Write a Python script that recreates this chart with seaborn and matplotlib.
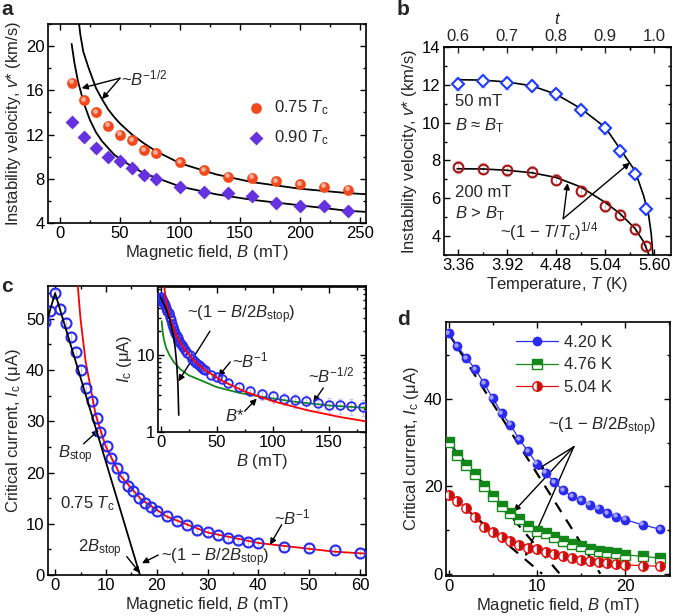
import matplotlib
matplotlib.use("Agg")
import matplotlib.pyplot as plt
import seaborn as sns
from matplotlib.ticker import MultipleLocator, FixedLocator, LogLocator, NullFormatter
from matplotlib.transforms import offset_copy

# ---------------- panel a: instability velocity vs field ----------------
a_field = [10, 20, 30, 40, 50, 60, 70, 80, 100, 120, 140, 160, 180, 200, 220, 240]
a_v075 = [16.7, 15.1, 14.0, 12.8, 12.0, 11.5, 10.6, 10.3, 9.5, 8.8, 8.2, 8.1, 7.8, 7.5, 7.3, 7.0]
a_v090 = [13.1, 11.8, 10.8, 10.0, 9.6, 9.0, 8.3, 8.0, 7.3, 6.8, 6.7, 6.4, 5.8, 5.5, 5.5, 5.1]
a_err = 0.35
a_fit075_B = [15.9, 17, 19.4, 23.6, 30, 35, 40, 45, 50, 60, 70, 80, 100, 130, 160, 200, 240, 256]
a_fit075_v = [22, 21.0, 19.5, 18.1, 16.2, 15.2, 14.3, 13.6, 13.0, 12.0, 11.2, 10.5, 9.4, 8.4, 7.7, 7.1, 6.7, 6.6]
a_fit090_B = [9.7, 12, 15, 20, 25, 30, 35, 40, 45, 50, 60, 70, 80, 100, 130, 160, 200, 240, 256]
a_fit090_v = [20.2, 18.5, 16.8, 14.8, 13.3, 12.2, 11.4, 10.8, 10.2, 9.8, 9.1, 8.5, 8.1, 7.3, 6.6, 6.1, 5.6, 5.1, 5.0]

# ---------------- panel b: velocity vs temperature ----------------
b_T = [3.355, 3.64, 3.92, 4.20, 4.48, 4.76, 5.04, 5.21, 5.38, 5.50]
b_v50 = [12.05, 12.2, 12.1, 11.95, 11.5, 10.65, 9.7, 8.5, 7.3, 5.45]
b_v200 = [7.65, 7.56, 7.47, 7.4, 6.98, 6.36, 5.57, 5.13, 4.37, 3.45]
b_err = 0.3
b_fit50_T = [3.35, 3.64, 3.92, 4.20, 4.48, 4.76, 5.04, 5.21, 5.38, 5.48, 5.535, 5.565, 5.585]
b_fit50_v = [12.27, 12.25, 12.15, 11.95, 11.5, 10.75, 9.75, 8.6, 7.45, 6.1, 5.1, 4.1, 2.9]
b_fit200_T = [3.35, 3.64, 3.92, 4.20, 4.48, 4.76, 5.04, 5.21, 5.38, 5.48, 5.545]
b_fit200_v = [7.56, 7.55, 7.48, 7.35, 7.1, 6.6, 5.78, 5.18, 4.4, 3.68, 2.93]
b_T_ticks = [3.36, 3.92, 4.48, 5.04, 5.60]
b_t_ticks = [0.6, 0.7, 0.8, 0.9, 1.0]
b_Tc = 5.6

# ---------------- panel c: critical current vs field, 0.75 Tc ----------------
c_B = [-2, -1, 0, 1, 2.1, 3.1, 4.2, 5.0, 6.1, 7.3, 8.2, 8.9, 10.2, 11.1, 12.1, 13.3, 14.4,
       15.4, 16.6, 17.6, 18.8, 20, 22, 24, 26, 28, 30, 32, 34, 36, 38, 40, 45, 50, 55, 60]
c_I = [49.3, 51.6, 55.0, 51.9, 49.2, 46.5, 43.6, 40.0, 36.5, 33.9, 30.6, 28.0, 25.1, 22.8,
       20.8, 19.2, 17.4, 16.3, 15.0, 14.0, 13.2, 12.4, 11.5, 10.6, 9.8, 8.8, 8.3, 7.8, 7.3,
       6.8, 6.5, 6.3, 5.5, 5.2, 4.8, 4.3]
c_B_hi = [70, 80, 90, 100, 110, 120, 130, 140, 150, 160, 170, 180]
c_I_hi = [3.8, 3.4, 3.05, 2.9, 2.7, 2.55, 2.5, 2.4, 2.25, 2.2, 2.15, 2.1]
c_err = 0.9
c_hi_err = 0.5
c_red_B = [3.4, 4, 5, 6, 8, 10, 13, 17, 22, 30, 40, 55, 75, 100, 130, 160, 183]
c_red_I = [73, 62, 50, 41.7, 31.2, 25, 19.2, 14.7, 11.4, 8.3, 6.25, 4.55, 3.33, 2.5, 1.92, 1.56, 1.37]
c_green_B = [1, 2, 3, 5, 8, 12, 18, 25, 35, 50, 70, 90, 120, 150, 183]
c_green_I = [27, 19, 15.6, 12.1, 9.8, 7.9, 6.4, 5.4, 4.7, 3.8, 3.2, 2.85, 2.45, 2.2, 2.05]
c_stop_B = [-2, 0, 16.7]
c_stop_I = [48.4, 55, 0]
c_stoplog_B = [0, 4, 8, 11, 13, 14.5, 15.5, 16.2]
c_stoplog_I = [55, 41.8, 28.7, 18.8, 12.2, 7.2, 4.0, 1.65]

# ---------------- panel d: critical current at three temperatures ----------------
d_B = [0, 1, 2, 3, 4, 5, 6, 7, 8, 9, 10, 11, 12, 13, 14, 15, 16, 17, 18, 19, 20, 22, 24]
d_I420 = [55.1, 52.1, 49.4, 46.9, 43.6, 40.2, 36.8, 34.1, 30.8, 28.0, 25.2, 23.1, 20.9,
          19.1, 17.7, 16.9, 15.8, 14.9, 13.9, 13.1, 12.4, 11.2, 10.2]
d_I476 = [30.1, 27.3, 25.0, 22.9, 20.0, 17.7, 15.6, 13.9, 12.5, 11.0, 9.9, 9.3, 8.4,
          7.6, 6.9, 6.3, 5.6, 5.3, 5.0, 4.7, 4.35, 4.0, 3.6]
d_I504 = [18.1, 16.6, 15.0, 13.1, 10.8, 9.5, 8.5, 7.6, 6.6, 5.9, 5.6, 5.0, 4.6,
          4.1, 3.6, 3.2, 3.0, 2.7, 2.4, 2.2, 2.0, 1.9, 1.7]
d_err = 0.9
d_lin420 = ([0, 17.2], [55, 0])
d_lin476 = ([0, 12.6], [30, 0])
d_lin504 = ([0, 10.6], [18.2, 0])

ORANGE = "#f24a1c"
VIOLET = "#6632e0"
BLUE = "#2a2af0"
DARKRED = "#a51616"
RED = "#ff0000"
GREEN = "#14871a"

sns.set_theme(style="ticks")
plt.rcParams["font.family"] = ["Liberation Sans", "DejaVu Sans"]
plt.rcParams["mathtext.fontset"] = "custom"
plt.rcParams["mathtext.rm"] = "Liberation Sans"
plt.rcParams["mathtext.it"] = "Liberation Sans:italic"
plt.rcParams["mathtext.bf"] = "Liberation Sans:bold"
plt.rcParams["axes.linewidth"] = 1.2
FS = 12

fig = plt.figure(figsize=(6.73, 6.16), dpi=100)
W, H = 673.0, 616.0


def add_ax(left, top, right, bottom):
    return fig.add_axes([left / W, 1 - bottom / H, (right - left) / W, (bottom - top) / H])


def style(ax):
    ax.tick_params(which="both", direction="in", top=True, right=True,
                   labelsize=FS, colors="black", width=1.0, pad=2.5)
    ax.tick_params(which="major", length=4)
    ax.tick_params(which="minor", length=2)
    for sp in ax.spines.values():
        sp.set_color("black")
        sp.set_linewidth(1.2)


def sphere_highlight(ax, x, y, size):
    tr = offset_copy(ax.transData, fig=fig, x=-1.0, y=1.0, units="points")
    ax.scatter(x, y, s=size, color="white", alpha=0.55, linewidth=0,
               transform=tr, zorder=6)


arrow = dict(arrowstyle="-|>", color="black", lw=1.0, mutation_scale=9,
             shrinkA=0, shrinkB=0)

# ======================= a =======================
ax = add_ax(48, 24, 366, 223)
style(ax)
ax.errorbar(a_field, a_v075, yerr=a_err, fmt="none", ecolor="#f7b9a8", elinewidth=0.8, capsize=2, zorder=2)
ax.errorbar(a_field, a_v090, yerr=a_err, fmt="none", ecolor="#c9b6f2", elinewidth=0.8, capsize=2, zorder=2)
sns.lineplot(x=a_fit075_B, y=a_fit075_v, ax=ax, color="black", lw=1.3, sort=False, estimator=None, zorder=3)
sns.lineplot(x=a_fit090_B, y=a_fit090_v, ax=ax, color="black", lw=1.3, sort=False, estimator=None, zorder=3)
sns.scatterplot(x=a_field, y=a_v075, ax=ax, color=ORANGE, s=60, marker="o", linewidth=0, zorder=5,
                label="0.75 $T_{\\rm c}$")
sphere_highlight(ax, a_field, a_v075, 12)
sns.scatterplot(x=a_field, y=a_v090, ax=ax, color=VIOLET, s=50, marker="D", linewidth=0, zorder=5,
                label="0.90 $T_{\\rm c}$")
ax.legend(loc="center left", bbox_to_anchor=(0.575, 0.505), frameon=False, fontsize=FS,
          handletextpad=0.1, labelspacing=0.7, borderpad=0, markerscale=1.0)
ax.annotate("", xy=(18, 16.2), xytext=(50, 17.1), arrowprops=arrow)
ax.annotate("", xy=(35, 15.2), xytext=(50, 17.1), arrowprops=arrow)
ax.text(51, 17.1, "~$B^{-1/2}$", fontsize=FS, va="center", ha="left")
ax.set_xlim(-10, 255)
ax.set_ylim(4, 22)
ax.xaxis.set_major_locator(MultipleLocator(50))
ax.xaxis.set_minor_locator(MultipleLocator(25))
ax.yaxis.set_major_locator(MultipleLocator(4))
ax.yaxis.set_minor_locator(MultipleLocator(2))
ax.set_xlabel("Magnetic field, $B$ (mT)", fontsize=FS, labelpad=1)
ax.set_ylabel("Instability velocity, $v$* (km/s)", fontsize=FS, labelpad=2)

# ======================= b =======================
ax = add_ax(444, 47, 671, 255)
style(ax)
ax.tick_params(top=False)
ax.errorbar(b_T, b_v50, yerr=b_err, fmt="none", ecolor="#c4c9f7", elinewidth=0.8, capsize=2, zorder=2)
ax.errorbar(b_T, b_v200, yerr=b_err, fmt="none", ecolor="#f0bcbc", elinewidth=0.8, capsize=2, zorder=2)
sns.lineplot(x=b_fit50_T, y=b_fit50_v, ax=ax, color="black", lw=1.2, sort=False, estimator=None, zorder=3)
sns.lineplot(x=b_fit200_T, y=b_fit200_v, ax=ax, color="black", lw=1.2, sort=False, estimator=None, zorder=3)
ax.plot(b_T, b_v50, ls="none", marker="D", ms=6.2, mfc="white", mec="#1e3cff", mew=1.5, zorder=5)
ax.plot(b_T, b_v200, ls="none", marker="o", ms=7.0, mfc="none", mec=DARKRED, mew=1.5, zorder=5)
ax.text(3.33, 11.1, "50 mT", fontsize=FS, va="center")
ax.text(3.33, 9.86, "$B$ ≈ $B_{\\rm T}$", fontsize=FS, va="center")
ax.text(3.33, 6.33, "200 mT", fontsize=FS, va="center")
ax.text(3.33, 5.2, "$B$ > $B_{\\rm T}$", fontsize=FS, va="center")
ax.text(4.40, 4.25, "~(1 − $T$/$T_{\\rm c}$)$^{1/4}$", fontsize=FS, va="center", ha="center")
ax.annotate("", xy=(4.61, 6.8), xytext=(4.56, 4.92), arrowprops=arrow)
ax.annotate("", xy=(5.32, 7.88), xytext=(4.56, 4.92), arrowprops=arrow)
ax.set_xlim(3.2, 5.79)
ax.set_ylim(3, 14)
ax.xaxis.set_major_locator(FixedLocator(b_T_ticks))
ax.xaxis.set_minor_locator(FixedLocator([3.64, 4.20, 4.76, 5.32]))
ax.set_xticklabels([f"{v:.2f}" for v in b_T_ticks])
ax.yaxis.set_major_locator(MultipleLocator(2))
ax.yaxis.set_minor_locator(MultipleLocator(1))
ax.set_xlabel("Temperature, $T$ (K)", fontsize=FS, labelpad=1)
ax.set_ylabel("Instability velocity, $v$* (km/s)", fontsize=FS, labelpad=2)
sec = ax.secondary_xaxis("top", functions=(lambda T: T / b_Tc, lambda t: t * b_Tc))
sec.xaxis.set_major_locator(FixedLocator(b_t_ticks))
sec.xaxis.set_minor_locator(FixedLocator([0.65, 0.75, 0.85, 0.95]))
sec.set_xticklabels([f"{v:.1f}" for v in b_t_ticks])
sec.tick_params(which="both", direction="in", labelsize=FS, width=1.0, pad=2.5)
sec.tick_params(which="major", length=4)
sec.tick_params(which="minor", length=2)
sec.set_xlabel("$t$", fontsize=FS, labelpad=3)

# ======================= c =======================
ax = add_ax(48, 286, 366, 575)
style(ax)
ax.errorbar(c_B, c_I, yerr=c_err, fmt="none", ecolor="#c8c8f5", elinewidth=0.8, capsize=2, zorder=2)
sns.lineplot(x=c_red_B, y=c_red_I, ax=ax, color=RED, lw=1.3, sort=False, estimator=None, zorder=3)
ax.plot(c_B, c_I, ls="none", marker="o", ms=7.2, mfc="none", mec=BLUE, mew=1.5, zorder=4)
sns.lineplot(x=c_stop_B, y=c_stop_I, ax=ax, color="black", lw=1.3, sort=False, estimator=None, zorder=5)
ax.text(3.9, 23.4, "$B_{\\rm stop}$", fontsize=FS, ha="center", va="center")
ax.annotate("", xy=(8.6, 28.3), xytext=(5.6, 25.6), arrowprops=arrow)
ax.text(1.0, 13.9, "0.75 $T_{\\rm c}$", fontsize=FS, va="center")
ax.text(8.8, 5.1, "2$B_{\\rm stop}$", fontsize=FS, ha="center", va="center")
ax.annotate("", xy=(16.7, 0.4), xytext=(14.1, 3.6), arrowprops=arrow)
ax.text(20.8, 3.4, "~(1 − $B$/2$B_{\\rm stop}$)", fontsize=FS, va="center")
ax.annotate("", xy=(17.1, 2.3), xytext=(20.3, 3.9), arrowprops=arrow)
ax.text(43, 11.2, "~$B^{-1}$", fontsize=FS, ha="left", va="center")
ax.annotate("", xy=(42.3, 5.9), xytext=(44.6, 9.8), arrowprops=arrow)
ax.set_xlim(-1.4, 61.2)
ax.set_ylim(0, 56.4)
ax.xaxis.set_major_locator(MultipleLocator(10))
ax.xaxis.set_minor_locator(MultipleLocator(5))
ax.yaxis.set_major_locator(MultipleLocator(10))
ax.yaxis.set_minor_locator(MultipleLocator(5))
ax.set_xlabel("Magnetic field, $B$ (mT)", fontsize=FS, labelpad=1)
ax.set_ylabel("Critical current, $I_{\\rm c}$ (μA)", fontsize=FS, labelpad=2)

# inset of c
axi = add_ax(158.3, 286.7, 366, 432)
axi.set_zorder(10)
axi.set_facecolor("white")
style(axi)
axi.set_yscale("log")
axi.errorbar(c_B + c_B_hi, c_I + c_I_hi, yerr=[c_err * 0.6] * len(c_B) + [c_hi_err] * len(c_B_hi),
             fmt="none", ecolor="#c8c8f5", elinewidth=0.8, capsize=1.5, zorder=2)
sns.lineplot(x=c_green_B, y=c_green_I, ax=axi, color=GREEN, lw=1.3, sort=False, estimator=None, zorder=3)
axi.plot(c_B + c_B_hi, c_I + c_I_hi, ls="none", marker="o", ms=6.2, mfc="none", mec=BLUE, mew=1.3, zorder=4)
sns.lineplot(x=c_red_B, y=c_red_I, ax=axi, color=RED, lw=1.3, sort=False, estimator=None, zorder=5)
sns.lineplot(x=c_stoplog_B, y=c_stoplog_I, ax=axi, color="black", lw=1.2, sort=False, estimator=None, zorder=5)
axi.text(72, 33, "~(1 − $B$/2$B_{\\rm stop}$)", fontsize=FS, ha="center", va="center")
axi.annotate("", xy=(15.9, 4.5), xytext=(44, 20), arrowprops=arrow)
axi.text(64, 8.3, "~$B^{-1}$", fontsize=FS, ha="left", va="center")
axi.annotate("", xy=(51.5, 5.2), xytext=(62, 8.0), arrowprops=arrow)
axi.text(131, 5.3, "~$B^{-1/2}$", fontsize=FS, ha="left", va="center")
axi.annotate("", xy=(136, 2.4), xytext=(145, 3.7), arrowprops=arrow)
axi.text(66, 1.6, "$B$*", fontsize=FS, ha="center", va="center")
axi.annotate("", xy=(85.7, 2.7), xytext=(75, 1.86), arrowprops=arrow)
axi.set_xlim(-2, 183)
axi.set_ylim(1, 75)
axi.xaxis.set_major_locator(MultipleLocator(50))
axi.xaxis.set_minor_locator(MultipleLocator(25))
axi.yaxis.set_minor_locator(LogLocator(base=10, subs=range(2, 10), numticks=10))
axi.yaxis.set_minor_formatter(NullFormatter())
axi.set_yticks([1, 10])
axi.set_yticklabels(["1", "10"])
axi.set_xlabel("$B$ (mT)", fontsize=FS, labelpad=1)
axi.set_ylabel("$I_{\\rm c}$ (μA)", fontsize=FS, labelpad=2)

# ======================= d =======================
ax = add_ax(446, 321.7, 670, 576)
style(ax)
for ys, ec in [(d_I420, "#c8c8f5"), (d_I476, "#b8dcb8"), (d_I504, "#f5c0c0")]:
    ax.errorbar(d_B, ys, yerr=d_err, fmt="none", ecolor=ec, elinewidth=0.8, capsize=2, zorder=2)
for xs, ys in [d_lin420, d_lin476, d_lin504]:
    sns.lineplot(x=xs, y=ys, ax=ax, color="black", lw=1.6, sort=False, estimator=None,
                 zorder=3, dashes=False, linestyle=(0, (5, 4)))
h1, = ax.plot(d_B, d_I420, color=BLUE, lw=0.9, marker="o", ms=7, mfc=BLUE, mec=BLUE, mew=0,
              zorder=4, label="4.20 K")
sphere_highlight(ax, d_B, d_I420, 10)
h2, = ax.plot(d_B, d_I476, color=GREEN, lw=0.9, marker="s", ms=6.5, fillstyle="top",
              mfc=GREEN, mfcalt="white", mec=GREEN, mew=1.0, zorder=4, label="4.76 K")
h3, = ax.plot(d_B, d_I504, color="#e01010", lw=0.9, marker="o", ms=6.8, fillstyle="right",
              mfc="#c01010", mfcalt="white", mec="#e01010", mew=1.0, zorder=4, label="5.04 K")
ax.legend(handles=[h1, h2, h3], loc="center left", bbox_to_anchor=(0.275, 0.83), frameon=False,
          fontsize=FS, handlelength=2.5, handletextpad=0.4, labelspacing=0.45, borderpad=0)
ax.text(17.4, 33.7, "~(1 − $B$/2$B_{\\rm stop}$)", fontsize=FS, ha="center", va="center")
for tip in [(10, 23.8), (7.4, 14.3), (8.7, 4.0)]:
    ax.annotate("", xy=tip, xytext=(14.2, 29.1), arrowprops=arrow)
ax.set_xlim(-0.3, 25.1)
ax.set_ylim(-0.5, 57.7)
ax.xaxis.set_major_locator(MultipleLocator(10))
ax.xaxis.set_minor_locator(MultipleLocator(5))
ax.yaxis.set_major_locator(MultipleLocator(20))
ax.yaxis.set_minor_locator(MultipleLocator(10))
ax.set_xlabel("Magnetic field, $B$ (mT)", fontsize=FS, labelpad=1)
ax.set_ylabel("Critical current, $I_{\\rm c}$ (μA)", fontsize=FS, labelpad=2)

# panel letters
for letter, x, y in [("a", 1, 15), ("b", 397, 15), ("c", 1, 292), ("d", 397, 325)]:
    fig.text(x / W, 1 - y / H, letter, fontsize=15, fontweight="bold", va="baseline", ha="left")

fig.savefig("out.png", dpi=100)
